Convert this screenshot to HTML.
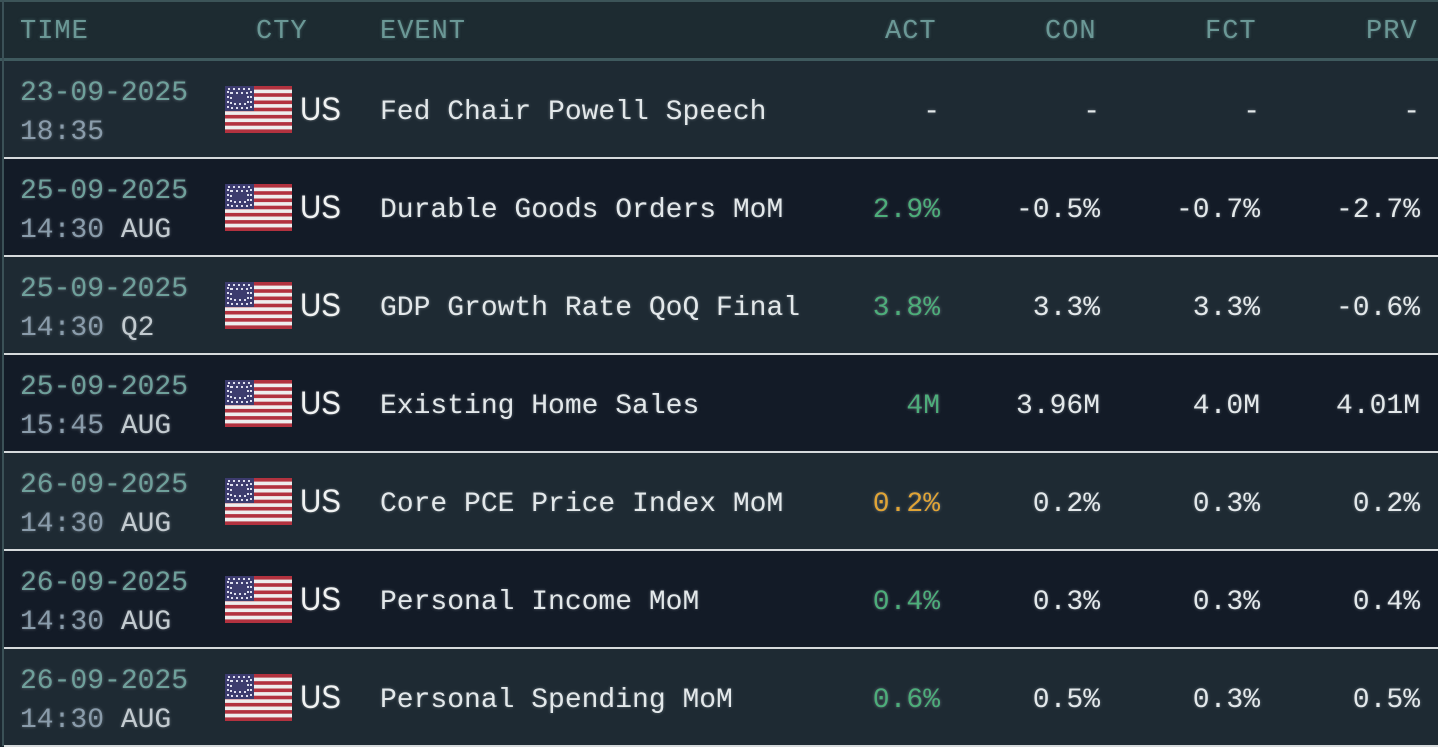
<!DOCTYPE html>
<html><head><meta charset="utf-8"><style>
body{margin:0;width:1438px;height:746px;background:#1b2730;overflow:hidden;font-family:"Liberation Mono",monospace;}
.hdr{position:absolute;left:0;top:0;width:1438px;height:58px;background:#1d2b31;border-top:2px solid #3c5458;}
.hl{position:absolute;left:0;top:58px;width:1438px;height:3px;background:#3f5a5e;}
.h{position:absolute;top:17px;font-size:27px;color:#6b9896;letter-spacing:1px;text-shadow:0 0 3px rgba(107,152,150,0.5);}
.lb{position:absolute;left:2px;top:0;width:2px;height:746px;background:#3b5157;}
.row{position:absolute;left:4px;width:1434px;height:96px;border-bottom:2px solid #d6dadc;}
.t{position:absolute;font-size:28px;white-space:pre;text-shadow:0 0 3px rgba(220,230,235,0.35);}
.d{left:16px;top:17px;color:#6fa09b;}
.tm{left:16px;top:56px;color:#8a9cab;}
.tm b{font-weight:normal;color:#c3cbd0;}
.us{position:absolute;left:296px;top:30px;font-family:"Liberation Sans",sans-serif;font-size:32px;color:#f0f2f2;transform:scaleX(0.92);transform-origin:left;text-shadow:0 0 3px rgba(255,255,255,0.4);}
.ev{left:376px;top:36px;color:#e3e8ea;}
.v{top:36px;color:#e3e8ea;text-align:right;width:200px;}
.g{color:#4dad7a;}.o{color:#e0a436;}
svg{position:absolute;left:221px;top:25px;}
</style></head><body>
<div class="hdr"></div><div class="hl"></div>
<div class="h" style="left:20px">TIME</div>
<div class="h" style="left:256px">CTY</div>
<div class="h" style="left:380px">EVENT</div>
<div class="h" style="left:885px">ACT</div>
<div class="h" style="left:1045px">CON</div>
<div class="h" style="left:1205px">FCT</div>
<div class="h" style="left:1366px">PRV</div>

<svg width="0" height="0" style="position:absolute"><defs><g id="f">
<rect width="67" height="47" fill="#eee"/>
<rect y="0" width="67" height="3.6" fill="#b2323f"/><rect y="7.2" width="67" height="3.6" fill="#b2323f"/><rect y="14.5" width="67" height="3.6" fill="#b2323f"/><rect y="21.7" width="67" height="3.6" fill="#b2323f"/><rect y="28.9" width="67" height="3.6" fill="#b2323f"/><rect y="36.1" width="67" height="3.6" fill="#b2323f"/><rect y="43.4" width="67" height="3.6" fill="#b2323f"/>
<rect width="29" height="25" fill="#3c3b6e"/>
<rect x="3" y="3" width="23" height="19" fill="none" stroke="#dde" stroke-width="2" stroke-dasharray="2 3"/>
<rect x="6" y="7" width="17" height="11" fill="none" stroke="#dde" stroke-width="2" stroke-dasharray="2 3"/>
</g></defs></svg>

<div class="lb"></div>
<div id="rows"></div>
<script>
var R=[["23-09-2025","18:35","","Fed Chair Powell Speech","-","-","-","-",""],
["25-09-2025","14:30"," AUG","Durable Goods Orders MoM","2.9%","-0.5%","-0.7%","-2.7%","g"],
["25-09-2025","14:30"," Q2","GDP Growth Rate QoQ Final","3.8%","3.3%","3.3%","-0.6%","g"],
["25-09-2025","15:45"," AUG","Existing Home Sales","4M","3.96M","4.0M","4.01M","g"],
["26-09-2025","14:30"," AUG","Core PCE Price Index MoM","0.2%","0.2%","0.3%","0.2%","o"],
["26-09-2025","14:30"," AUG","Personal Income MoM","0.4%","0.3%","0.3%","0.4%","g"],
["26-09-2025","14:30"," AUG","Personal Spending MoM","0.6%","0.5%","0.3%","0.5%","g"]];
var h="";
R.forEach(function(r,i){
h+='<div class="row" style="top:'+(61+98*i)+'px;background:'+(i%2?'#131b27':'#1e2a33')+'">'+
'<div class="t d">'+r[0]+'</div><div class="t tm">'+r[1]+'<b>'+r[2]+'</b></div>'+
'<svg width="67" height="47"><use href="#f"/></svg><div class="us">US</div>'+
'<div class="t ev">'+r[3]+'</div>'+
'<div class="t v '+r[8]+'" style="left:736px">'+r[4]+'</div>'+
'<div class="t v" style="left:896px">'+r[5]+'</div>'+
'<div class="t v" style="left:1056px">'+r[6]+'</div>'+
'<div class="t v" style="left:1216px">'+r[7]+'</div></div>';});
document.getElementById('rows').innerHTML=h;
</script>
</body></html>
